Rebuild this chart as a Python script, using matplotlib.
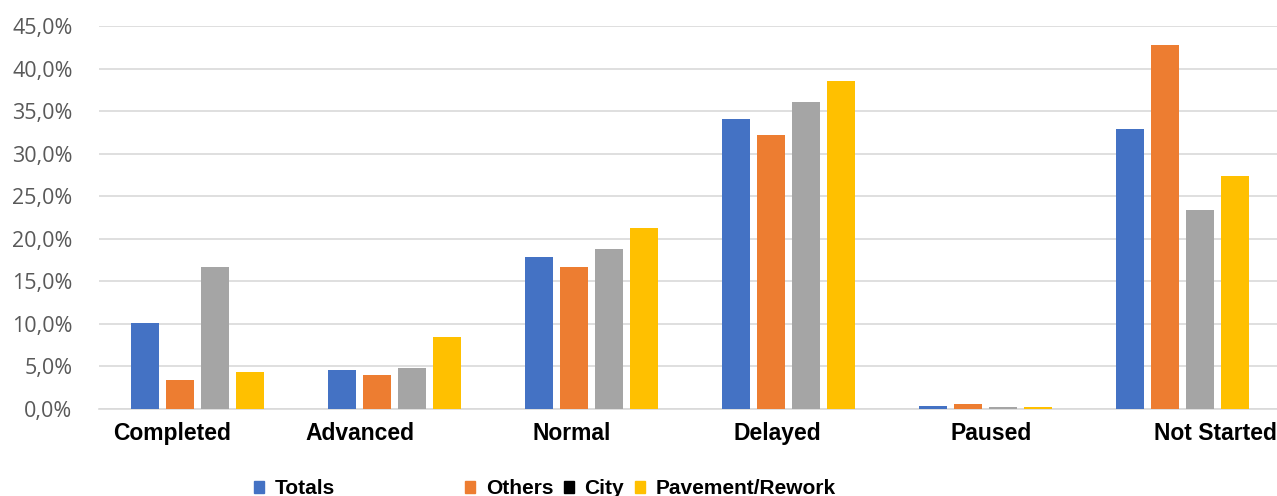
import numpy as np
import matplotlib.pyplot as plt
from matplotlib.patches import Patch
from matplotlib.ticker import FuncFormatter

plt.rcParams['font.family'] = ['Liberation Sans', 'DejaVu Sans']

categories = ["Completed", "Advanced", "Normal", "Delayed", "Paused", "Not Started"]
totals = [10.1, 4.6, 17.8, 34.1, 0.4, 32.9]
others = [3.4, 4.0, 16.7, 32.2, 0.6, 42.8]
city = [16.7, 4.8, 18.8, 36.1, 0.2, 23.4]
pavement = [4.3, 8.5, 21.3, 38.5, 0.2, 27.4]

series = [("Totals", totals, "#4472C4"),
          ("Others", others, "#ED7D31"),
          ("City", city, "#A5A5A5"),
          ("Pavement/Rework", pavement, "#FFC000")]

# category labels sit a little off the group centres
label_shift = [-0.127, -0.173, -0.10, -0.056, 0.03, 0.168]

fig = plt.figure(figsize=(12.77, 4.96), dpi=100)
ax = fig.add_axes([0.0775, 0.1754, 0.9255, 0.7722])

x = np.arange(len(categories))
pitch = 0.178
width = 0.142
for i, (name, vals, color) in enumerate(series):
    ax.bar(x + (i - 1.5) * pitch, vals, width, color=color, zorder=3)

ax.set_xlim(-0.5, 5.5)
ax.set_ylim(0, 45)
ax.set_yticks(np.arange(0, 46, 5))
ax.yaxis.set_major_formatter(FuncFormatter(lambda v, p: f"{v:.1f}%".replace(".", ",")))
ax.tick_params(axis='y', length=0, pad=19, labelsize=15.5, labelcolor="#595959")
for t in ax.get_yticklabels():
    t.set_family(['Open Sans', 'DejaVu Sans'])
ax.grid(axis='y', color="#D9D9D9", linewidth=1.2, zorder=0)

ax.set_xticks(x + np.array(label_shift))
ax.set_xticklabels(categories, fontsize=16.5, fontweight='bold', color='black')
ax.tick_params(axis='x', length=0, pad=9)

for s in ["top", "right", "left"]:
    ax.spines[s].set_visible(False)
ax.spines["bottom"].set_color("#D9D9D9")
ax.spines["bottom"].set_linewidth(1.2)

leg_kw = dict(frameon=False, handlelength=0.5, handleheight=0.5,
              handletextpad=0.5, prop={'weight': 'bold', 'size': 15},
              borderaxespad=0, borderpad=0)
fig.legend(handles=[Patch(color="#4472C4", label="Totals")],
           loc='lower left', bbox_to_anchor=(254 / 1277, -0.004), **leg_kw)
fig.legend(handles=[Patch(color="#ED7D31", label="Others"),
                    Patch(color="black", label="City"),
                    Patch(color="#FFC000", label="Pavement/Rework")],
           loc='lower left', bbox_to_anchor=(465 / 1277, -0.004), ncol=3,
           columnspacing=0.5, **leg_kw)

fig.savefig("out.png", dpi=100)
